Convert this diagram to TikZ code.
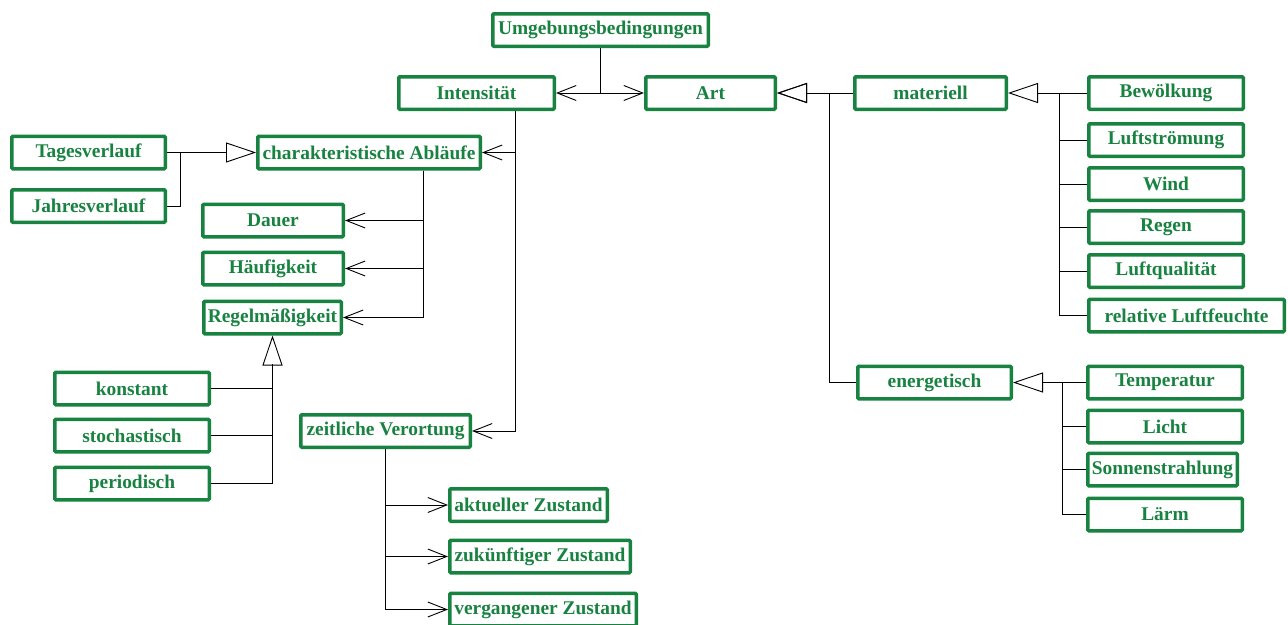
\documentclass[tikz,border=0pt]{standalone}
\usepackage{fontspec}
\setmainfont{Liberation Serif}
\usetikzlibrary{arrows.meta}
\definecolor{boxgreen}{RGB}{24,130,64}
\begin{document}
\begin{tikzpicture}[x=1pt,y=-1pt,
  box/.style={draw=boxgreen, line width=3.5pt, rounded corners=1pt, text=boxgreen,
    font=\fontsize{19.4}{22}\selectfont\bfseries, inner sep=0pt, minimum height=32.5pt},
  link/.style={draw=black, line width=0.9pt},
  barb/.style={link, -{Straight Barb[length=19pt,width=15pt,line width=0.9pt]}},
  gen/.style={link, -{Triangle[open,length=30pt,width=20pt,line width=0.9pt]}}]
\useasboundingbox (0,0) rectangle (1288,624);

% top level
\node[box, minimum width=215.5pt] (umg) at (600.5,30) {Umgebungsbedingungen};
\node[box, minimum width=155.5pt] (int) at (476.5,93) {Intensität};
\node[box, minimum width=129.5pt] (art) at (710.5,93) {Art};

% Art branch
\node[box, minimum width=151.5pt] (mat) at (930.5,93) {materiell};
\node[box, minimum width=153.5pt] (ene) at (934.5,382.5) {energetisch};

\node[box, minimum width=154.5pt] (bew) at (1166,93) {Bewölkung};
\node[box, minimum width=154.5pt] (lfs) at (1166,140) {Luftströmung};
\node[box, minimum width=154.5pt] (wind) at (1166,184) {Wind};
\node[box, minimum width=154.5pt] (regen) at (1166,227) {Regen};
\node[box, minimum width=154.5pt] (lfq) at (1166,271) {Luftqualität};
\node[box, minimum width=195.5pt] (rlf) at (1186.5,315.5) {relative Luftfeuchte};

\node[box, minimum width=154.5pt] (temp) at (1165,382.5) {Temperatur};
\node[box, minimum width=154.5pt] (licht) at (1165,426.5) {Licht};
\node[box, minimum width=149.5pt] (sonne) at (1162.5,469.5) {Sonnenstrahlung};
\node[box, minimum width=154.5pt] (laerm) at (1165,514.5) {Lärm};

% Intensität branch
\node[box, minimum width=153.5pt] (tag) at (88.5,152.5) {Tagesverlauf};
\node[box, minimum width=153.5pt] (jahr) at (88.5,206) {Jahresverlauf};
\node[box, minimum width=222.5pt] (char) at (369,152.5) {charakteristische Abläufe};
\node[box, minimum width=140.5pt] (dauer) at (273,220.5) {Dauer};
\node[box, minimum width=140.5pt] (haeuf) at (273,268.5) {Häufigkeit};
\node[box, minimum width=137.5pt] (regel) at (272.5,317.5) {Regelmäßigkeit};
\node[box, minimum width=154.5pt] (konst) at (132,388.5) {konstant};
\node[box, minimum width=154.5pt] (stoch) at (132,435.5) {stochastisch};
\node[box, minimum width=154.5pt] (perio) at (132,483.5) {periodisch};
\node[box, minimum width=169.5pt] (zeit) at (385.5,431) {zeitliche Verortung};
\node[box, minimum width=157.5pt] (akt) at (528.5,505) {aktueller Zustand};
\node[box, minimum width=180.5pt] (zuk) at (540,556.5) {zukünftiger Zustand};
\node[box, minimum width=186.5pt] (verg) at (543,609.5) {vergangener Zustand};

% bus points
\coordinate (artBus) at (829,93);
\coordinate (matBus) at (1059,93);
\coordinate (eneBus) at (1062,382.5);
\coordinate (tagBus) at (180,152.5);
\coordinate (intBus) at (515,0);
\coordinate (charBus) at (423,0);
\coordinate (regBus) at (272.5,364);

% Umgebungsbedingungen -> Intensität, Art
\draw[barb] (umg.south) |- (int.east);
\draw[barb] (umg.south) |- (art.west);

% generalisation of Art
\draw[gen] (mat.west) -- (art.east);
\draw[gen] (ene.west) -| (artBus) -- (art.east);

% generalisation of materiell
\draw[gen] (bew.west) -- (mat.east);
\foreach \n in {lfs,wind,regen,lfq,rlf}
  \draw[link] (\n.west) -| (matBus);

% generalisation of energetisch
\draw[gen] (temp.west) -- (ene.east);
\foreach \n in {licht,sonne,laerm}
  \draw[link] (\n.west) -| (eneBus);

% Intensität -> charakteristische Abläufe, zeitliche Verortung
\draw[barb] (int.south -| intBus) |- (char.east);
\draw[barb] (int.south -| intBus) |- (zeit.east);

% generalisation of charakteristische Abläufe
\draw[gen] (tag.east) -- (char.west);
\draw[link] (jahr.east) -| (tagBus);

% charakteristische Abläufe -> Dauer, Häufigkeit, Regelmäßigkeit
\draw[barb] (char.south -| charBus) |- (dauer.east);
\draw[barb] (char.south -| charBus) |- (haeuf.east);
\draw[barb] (char.south -| charBus) |- (regel.east);

% generalisation of Regelmäßigkeit
\draw[gen] (konst.east) -| (regel.south);
\draw[link] (stoch.east) -| (regBus);
\draw[link] (perio.east) -| (regBus);

% zeitliche Verortung -> Zustände
\draw[barb] (zeit.south) |- (akt.west);
\draw[barb] (zeit.south) |- (zuk.west);
\draw[barb] (zeit.south) |- (verg.west);
\end{tikzpicture}
\end{document}
